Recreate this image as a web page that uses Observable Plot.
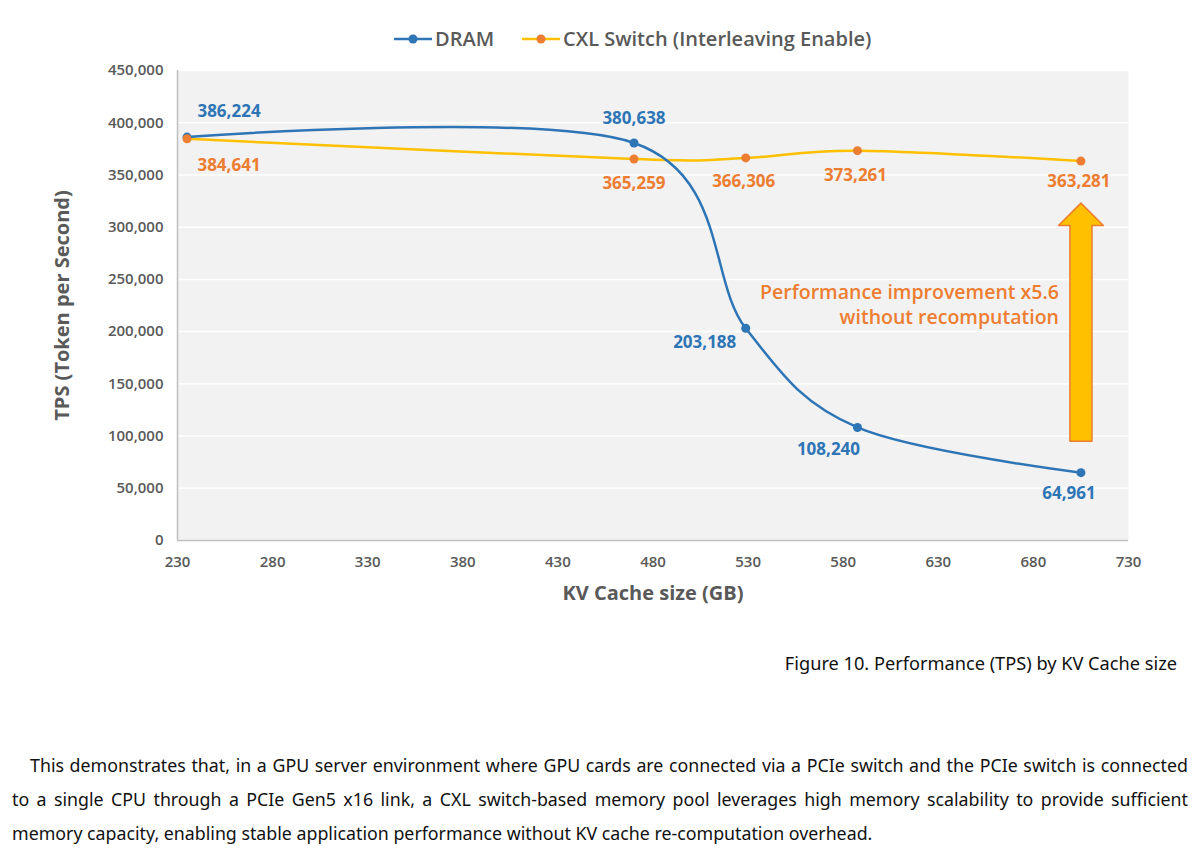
<!DOCTYPE html>
<html><head><meta charset="utf-8">
<script src="https://cdn.jsdelivr.net/npm/d3@7"></script>
<script src="https://cdn.jsdelivr.net/npm/@observablehq/plot@0.6"></script>
<style>
body{margin:0;background:#fff;width:1200px;height:851px;overflow:hidden;font-family:"Open Sans",sans-serif;position:relative;}
#legend{height:56px;position:relative;}
.litem{position:absolute;top:25px;display:flex;align-items:center;font-size:20px;font-weight:600;color:#595959;}
.litem svg{margin-right:3px;}
#chart{position:relative;}
#caption{position:absolute;top:650px;right:23px;font-family:"Noto Sans",sans-serif;font-size:18.2px;color:#111;line-height:26px;}
#para{position:absolute;top:748px;left:12px;width:1176px;font-family:"Noto Sans",sans-serif;font-size:17.8px;color:#111;}
#para div{white-space:nowrap;line-height:34px;height:34px;}
#para .j{text-align:justify;text-align-last:justify;}
</style></head><body>
<div id="legend"></div>
<div id="chart"></div>
<div id="caption"></div>
<div id="para"></div>
<script>
// ---- data ----
const kvSize = [235, 470, 528.75, 587.5, 705];
const dramTps = [386224, 380638, 203188, 108240, 64961];
const cxlTps = [384641, 365259, 366306, 373261, 363281];
const xTicks = [230, 280, 330, 380, 430, 480, 530, 580, 630, 680, 730];
const yTicks = [0, 50000, 100000, 150000, 200000, 250000, 300000, 350000, 400000, 450000];
const seriesNames = ["DRAM", "CXL Switch (Interleaving Enable)"];
const xTitle = "KV Cache size (GB)";
const yTitle = "TPS (Token per Second)";
const annotationText = ["Performance improvement x5.6", "without recomputation"];
const arrowBase = 95000, arrowTip = 323000;
const captionText = "Figure 10. Performance (TPS) by KV Cache size";
const paraLines = [
  "This demonstrates that, in a GPU server environment where GPU cards are connected via a PCIe switch and the PCIe switch is connected",
  "to a single CPU through a PCIe Gen5 x16 link, a CXL switch-based memory pool leverages high memory scalability to provide sufficient",
  "memory capacity, enabling stable application performance without KV cache re-computation overhead."
];

// ---- styles ----
const BLUE = "#2E75B6", ORANGE = "#ED7D31", YELLOW = "#FFC000", GRAY = "#595959";
const dramOffsets = [[42, -26], [0, -24], [-41, 14], [-29, 22], [-12, 21]];
const cxlOffsets = [[42, 27], [0, 25], [-2, 24], [-2, 25], [-2, 20]];

const dram = kvSize.map((x, i) => ({x, y: dramTps[i], i}));
const cxl = kvSize.map((x, i) => ({x, y: cxlTps[i], i}));
const fmt = d3.format(",");

// arrow polygon (annotation) anchored on last x value
const ax = kvSize[kvSize.length - 1];
const shaftW = 5.8, headW = 11.8, headBase = 301600;
const arrow = [
  [ax - shaftW, arrowBase], [ax - shaftW, headBase], [ax - headW, headBase], [ax, arrowTip],
  [ax + headW, headBase], [ax + shaftW, headBase], [ax + shaftW, arrowBase], [ax - shaftW, arrowBase]
].map(([x, y]) => ({x, y}));

const labelMarks = [];
dram.forEach((d, i) => labelMarks.push(Plot.text([d], {x: "x", y: "y", text: d => fmt(d.y), dx: dramOffsets[i][0], dy: dramOffsets[i][1], fill: BLUE, fontSize: 17, fontWeight: 700})));
cxl.forEach((d, i) => labelMarks.push(Plot.text([d], {x: "x", y: "y", text: d => fmt(d.y), dx: cxlOffsets[i][0], dy: cxlOffsets[i][1], fill: ORANGE, fontSize: 17, fontWeight: 700})));

const chart = Plot.plot({
  width: 1200, height: 564,
  marginTop: 14, marginBottom: 80, marginLeft: 177, marginRight: 72,
  style: {fontFamily: "'Open Sans', sans-serif", background: "#fff"},
  x: {domain: [230, 730]},
  y: {domain: [0, 450000]},
  marks: [
    Plot.frame({fill: "#F2F2F2", stroke: null}),
    Plot.gridY(yTicks, {stroke: "#fff", strokeOpacity: 1, strokeWidth: 1.5}),
    Plot.ruleX([230], {stroke: "#BFBFBF", strokeWidth: 1.5}),
    Plot.ruleY([0], {stroke: "#BFBFBF", strokeWidth: 1.5}),
    Plot.axisX({ticks: xTicks, tickSize: 0, tickPadding: 16, fontSize: 15, fontWeight: 600, fill: GRAY, label: null, tickFormat: d => d}),
    Plot.axisY({ticks: yTicks, tickSize: 0, tickPadding: 14, fontSize: 15, fontWeight: 600, fill: GRAY, label: null, tickFormat: fmt}),
    Plot.text([yTitle], {frameAnchor: "left", textAnchor: "middle", dx: -115, rotate: -90, fontSize: 20, fontWeight: 700, fill: GRAY}),
    Plot.text([xTitle], {frameAnchor: "bottom", textAnchor: "middle", dy: 59, fontSize: 20, fontWeight: 700, fill: GRAY}),
    Plot.line(arrow, {x: "x", y: "y", fill: YELLOW, stroke: ORANGE, strokeWidth: 1.5, curve: "linear"}),
    Plot.text([annotationText[0]], {x: ax, y: 237500, dx: -22, textAnchor: "end", fill: ORANGE, fontSize: 19.5, fontWeight: 600}),
    Plot.text([annotationText[1]], {x: ax, y: 213500, dx: -22, textAnchor: "end", fill: ORANGE, fontSize: 19.5, fontWeight: 600}),
    Plot.line(cxl, {x: "x", y: "y", stroke: YELLOW, strokeWidth: 2.5, curve: "cardinal"}),
    Plot.line(dram, {x: "x", y: "y", stroke: BLUE, strokeWidth: 2.5, curve: "cardinal"}),
    Plot.dot(dram, {x: "x", y: "y", r: 4.5, fill: BLUE}),
    Plot.dot(cxl, {x: "x", y: "y", r: 4.5, fill: ORANGE}),
    ...labelMarks
  ]
});
document.getElementById("chart").appendChild(chart);

// legend
const legend = document.getElementById("legend");
const swatch = (line, dot) => `<svg width="38" height="12"><line x1="0" y1="6" x2="38" y2="6" stroke="${line}" stroke-width="2.5"/><circle cx="19" cy="6" r="4.5" fill="${dot}"/></svg>`;
[[394, BLUE, BLUE], [522, YELLOW, ORANGE]].forEach(([left, l, d], i) => {
  const el = document.createElement("div");
  el.className = "litem";
  el.style.left = left + "px";
  el.innerHTML = swatch(l, d) + `<span>${seriesNames[i]}</span>`;
  legend.appendChild(el);
});

document.getElementById("caption").textContent = captionText;
const para = document.getElementById("para");
paraLines.forEach((t, i) => {
  const el = document.createElement("div");
  if (i < 2) el.className = "j";
  if (i === 0) el.style.paddingLeft = "18px";
  el.textContent = t;
  para.appendChild(el);
});
</script>
</body></html>
